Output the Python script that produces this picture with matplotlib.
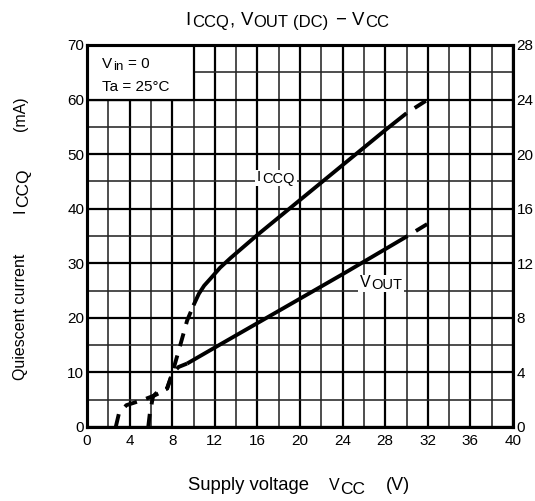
import numpy as np
import matplotlib
matplotlib.use("Agg")
import matplotlib.pyplot as plt
from matplotlib.transforms import IdentityTransform
from matplotlib.patches import Rectangle

plt.rcParams["font.family"] = ["Liberation Sans", "DejaVu Sans"]
plt.rcParams["lines.scale_dashes"] = False

# Quiescent current I_CCQ (mA) against supply voltage V_CC (V)
iccq_vcc = [5.75, 5.9, 6.2, 6.5, 7.5, 8.0, 8.7, 9.4, 10.0, 10.5, 11.0, 11.6,
            12.5, 13.5, 16.0, 20.0, 24.0, 28.0, 30.0, 32.0]
iccq_ma = [0.0, 2.5, 5.6, 6.2, 7.0, 9.8, 14.6, 19.5, 22.3, 24.4, 25.9, 27.2,
           29.2, 31.0, 35.2, 41.6, 48.0, 54.4, 57.5, 60.0]
iccq_solid = (10.0, 30.0)

# DC output voltage V_OUT (V) against supply voltage V_CC (V)
vout_vcc = [2.7, 3.0, 3.7, 5.3, 6.3, 7.5, 8.0, 8.6, 9.4, 12.35, 18.2, 24.0,
            30.1, 32.0]
vout_v = [0.0, 1.0, 1.6, 2.0, 2.3, 2.75, 3.9, 4.4, 4.65, 5.98, 8.6, 11.2,
          14.0, 14.9]
vout_solid = (9.4, 30.1)

x_ticks = list(range(0, 41, 4))
x_minor = list(range(2, 41, 4))
left_ticks = list(range(0, 71, 10))
left_minor = list(range(5, 71, 10))
right_ticks = list(range(0, 29, 4))

W, H = 535, 501
fig = plt.figure(figsize=(W / 100, H / 100), dpi=100)
ax = fig.add_axes([87 / W, 74 / H, 426 / W, 382 / H])
ax.set_xlim(0, 40)
ax.set_ylim(0, 70)
ax.set_xticks(x_ticks)
ax.set_xticks(x_minor, minor=True)
ax.set_yticks(left_ticks)
ax.set_yticks(left_minor, minor=True)
ax.grid(which="major", color="black", lw=1.6)
ax.grid(which="minor", color="#262626", lw=1.15)
ax.tick_params(which="both", length=0, labelsize=11)
ax.tick_params(axis="x", pad=5)
ax.tick_params(axis="y", pad=2)

ax2 = ax.twinx()
ax2.set_ylim(0, 28)
ax2.set_yticks(right_ticks)
ax2.tick_params(length=0, labelsize=11, pad=2.5)
for a in (ax, ax2):
    for sp in a.spines.values():
        sp.set_linewidth(2.2)

# Conditions box in the upper-left cell block
ax.add_patch(Rectangle((0, 60), 10, 10, facecolor="white", edgecolor="black",
                       lw=1.6, zorder=2.4))


def split_curve(x, y, lo, hi):
    x = np.asarray(x)
    y = np.asarray(y)
    a = x <= lo
    b = (x >= lo) & (x <= hi)
    c = x >= hi
    return (x[a], y[a]), (x[b], y[b]), (x[c], y[c])


line_kw = dict(color="black", lw=2.8, solid_capstyle="butt",
               dash_capstyle="butt")
on, off = 9.5, 7.0
dash_lead = (0, (on, off))      # starts with a dash
dash_tail = (on, (on, off))     # starts with a gap after the solid part

for target, xs, ys, rng in ((ax, iccq_vcc, iccq_ma, iccq_solid),
                            (ax2, vout_vcc, vout_v, vout_solid)):
    d1, s, d2 = split_curve(xs, ys, *rng)
    target.plot(*d1, linestyle=dash_lead, **line_kw)
    target.plot(*s, linestyle="-", **line_kw)
    target.plot(*d2, linestyle=dash_tail, **line_kw)

renderer = fig.canvas.get_renderer()


def draw_runs(x, y, runs, rotation=0):
    """Lay out text pieces one after another; each piece is
    (text, size, baseline drop in px, gap after in px)."""
    texts = []
    for s, size, drop, gap in runs:
        if rotation == 0:
            t = fig.text(x, y - drop, s, fontsize=size, ha="left",
                         va="baseline", transform=IdentityTransform())
            x += t.get_window_extent(renderer).width + gap
        else:
            t = fig.text(x + drop, y, s, fontsize=size, rotation=90,
                         rotation_mode="anchor", ha="left", va="baseline",
                         transform=IdentityTransform())
            y += t.get_window_extent(renderer).height + gap
        texts.append(t)
    return texts


def white_backing(texts, pad=2):
    bbs = [t.get_window_extent(renderer) for t in texts]
    x0 = min(b.x0 for b in bbs) - pad
    x1 = max(b.x1 for b in bbs) + pad
    y0 = min(b.y0 for b in bbs)
    y1 = max(b.y1 for b in bbs)
    fig.add_artist(Rectangle((x0, y0), x1 - x0, y1 - y0, facecolor="white",
                             edgecolor="none", transform=IdentityTransform(),
                             zorder=2))


# Title
draw_runs(185, 476, [("I", 13.4, 0, 1.5), ("CCQ", 12, 2, 1),
                     (",", 13.4, 0, 6), ("V", 13.4, 0, 0.5),
                     ("OUT", 12, 2, 4), ("(DC)", 12, 2, 7),
                     ("\u2212", 13.4, 0, 6), ("V", 13.4, 0, 0.5),
                     ("CC", 12, 2, 0)])

# Axis titles
draw_runs(188, 11, [("Supply voltage", 13.3, 0, 20), ("V", 11.5, 0, 0.5),
                    ("CC", 12.5, 4, 21), ("(V)", 13, 0, 0)])
draw_runs(25, 121, [("Quiescent current", 11.5, 0, 41), ("I", 11.5, 0, 1),
                    ("CCQ", 12.5, 3, 38), ("(mA)", 11.5, 0, 0)], rotation=90)

# Conditions
draw_runs(102, 433, [("V", 11, 0, 0.5), ("in", 9.5, 2, 5), ("= 0", 11, 0, 0)])
draw_runs(102, 410, [("Ta = 25\u00b0C", 11, 0, 0)])

# Curve labels
t_i = draw_runs(257, 320, [("I", 11, 0, 1), ("CCQ", 10.5, 2, 0)])
white_backing(t_i)
t_v = draw_runs(360, 214, [("V", 11.5, 0, 0.5), ("OUT", 10.5, 2, 0)])
white_backing(t_v)

fig.savefig("out.png", dpi=100)
